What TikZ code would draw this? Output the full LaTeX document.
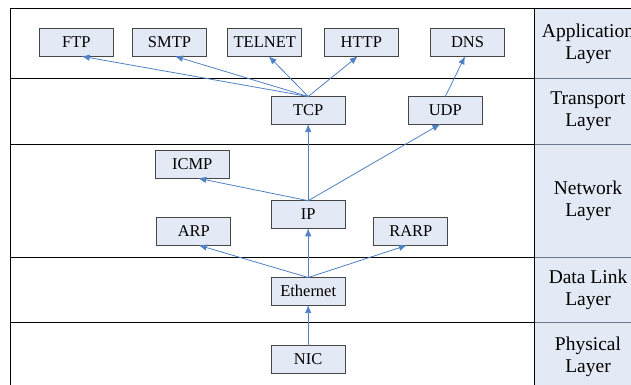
\documentclass[tikz,border=0pt]{standalone}
\usepackage{fontspec}
\setmainfont{Liberation Serif}
\usetikzlibrary{arrows.meta}
\definecolor{boxfill}{RGB}{228,234,245}
\definecolor{boxline}{RGB}{70,70,70}
\definecolor{arrowblue}{RGB}{79,129,196}
\definecolor{colline}{RGB}{110,120,140}
\begin{document}
\begin{tikzpicture}[x=1pt,y=-1pt,
  proto/.style={draw=boxline,fill=boxfill,line width=0.8pt,minimum width=74pt,
    minimum height=27.6pt,inner sep=0pt,outer sep=0pt,
    font=\fontsize{16.5}{18}\selectfont},
  layerlabel/.style={align=center,font=\fontsize{19.5}{22}\selectfont,inner sep=0pt},
  link/.style={draw=arrowblue,line width=0.8pt,-{Latex[length=8pt,width=6.5pt]}},
  frame/.style={line width=1pt,draw=black}]
\useasboundingbox (0,0) rectangle (631,385);
\begin{scope}
\clip (0,0) rectangle (631,385);
% layer name column
\fill[boxfill] (534,8.7) rectangle (650,392);
\foreach \yy in {79,144.3,257.3,322.7}
  \draw[colline,line width=1pt] (534,\yy) -- (650,\yy);
\draw[frame] (534,8.7) -- (650,8.7);
% layer rows
\draw[frame] (10.5,392) -- (10.5,8.7) -- (534,8.7) -- (534,392);
\foreach \yy in {79,144.3,257.3,322.7}
  \draw[frame] (10.5,\yy) -- (534,\yy);
% layer names
\node[layerlabel] (lapp) at (588,44) {Application\\Layer};
\node[layerlabel] (ltrans) at (588,111.5) {Transport\\Layer};
\node[layerlabel] (lnet) at (588,200.5) {Network\\Layer};
\node[layerlabel] (llink) at (588,290) {Data Link\\Layer};
\node[layerlabel] (lphys) at (588,357) {Physical\\Layer};
\end{scope}
% protocols
\node[proto] (ftp) at (76.3,42.5) {FTP};
\node[proto] (smtp) at (169.5,42.5) {SMTP};
\node[proto] (telnet) at (264.8,42.5) {TELNET};
\node[proto] (http) at (361.3,42.5) {HTTP};
\node[proto] (dns) at (467.5,42.5) {DNS};
\node[proto] (tcp) at (308.2,110.3) {TCP};
\node[proto] (udp) at (445.3,110.3) {UDP};
\node[proto] (icmp) at (192.2,164.5) {ICMP};
\node[proto] (ip) at (308.2,214.5) {IP};
\node[proto] (arp) at (193.8,231.5) {ARP};
\node[proto] (rarp) at (410.8,231.5) {RARP};
\node[proto] (eth) at (308.2,291.3) {Ethernet};
\node[proto] (nic) at (308.2,359.5) {NIC};
% connections
\draw[link] (tcp.north) -- ([xshift=5.4pt]ftp.south);
\draw[link] (tcp.north) -- ([xshift=5.5pt]smtp.south);
\draw[link] (tcp.north) -- ([xshift=4pt]telnet.south);
\draw[link] (tcp.north) -- ([xshift=-3.6pt]http.south);
\draw[link] (udp.north) -- ([xshift=-2.5pt]dns.south);
\draw[link] (ip.north) -- (tcp.south);
\draw[link] (ip.north) -- ([xshift=-5pt]udp.south);
\draw[link] (ip.north) -- ([xshift=6pt]icmp.south);
\draw[link] (eth.north) -- (ip.south);
\draw[link] (eth.north) -- ([xshift=5pt]arp.south);
\draw[link] (eth.north) -- ([xshift=-4pt]rarp.south);
\draw[link] (nic.north) -- (eth.south);
\end{tikzpicture}
\end{document}
